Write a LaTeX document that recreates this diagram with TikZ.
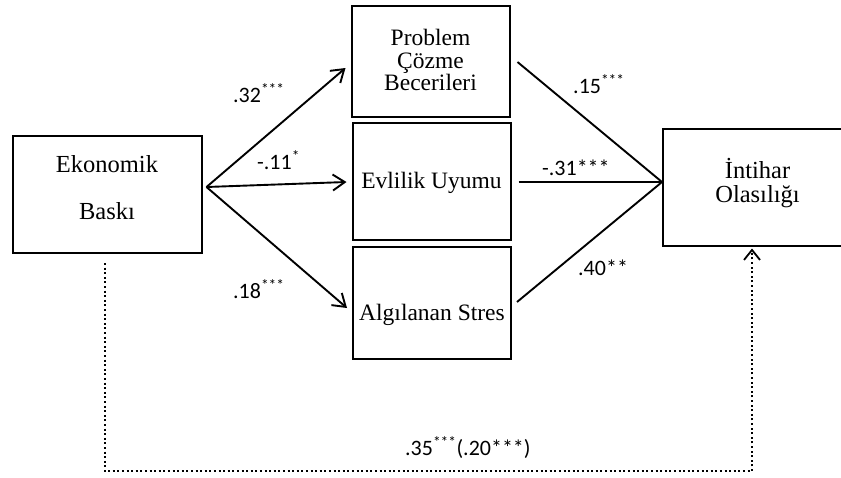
\documentclass[tikz,border=0pt]{standalone}
\usepackage{fontspec}
\setmainfont{Liberation Serif}
\newfontfamily\lblfont{Carlito}
\usetikzlibrary{arrows.meta}

\begin{document}
\begin{tikzpicture}[x=1pt,y=-1pt,
  box/.style={draw,line width=2pt,inner sep=0pt,minimum width=#1},
  box/.default=158pt,
  boxtext/.style={inner sep=0pt,align=center,font=\fontsize{23.5}{22.5}\selectfont},
  arr/.style={line width=1.9pt,-{Straight Barb[length=12pt,width=16pt,line width=1.9pt]}},
  lbl/.style={inner sep=0pt,anchor=base west,font=\lblfont\fontsize{22}{26}\selectfont}]

\useasboundingbox (0,0) rectangle (841,477);
\clip (0,0) rectangle (841,477);

% boxes
\node[box=189pt,minimum height=117pt] (eko) at (107,194.5) {};
\node[box,minimum height=111pt] (prob) at (430.5,61.5) {};
\node[box,minimum height=117pt] (evl) at (431.5,181.5) {};
\node[box,minimum height=112pt] (alg) at (432,303) {};
\node[box=189pt,minimum height=117pt] (inti) at (757.5,187.5) {};

\node[boxtext,font=\fontsize{24.5}{47}\selectfont,yshift=7.3pt] (ekoT) at (eko) {Ekonomik\\Baskı};
\node[boxtext,yshift=1.5pt] (probT) at (prob) {Problem\\Çözme\\Becerileri};
\node[boxtext,yshift=-1pt] (evlT) at (evl) {Evlilik Uyumu};
\node[boxtext,yshift=-11.7pt] (algT) at (alg) {Algılanan Stres};
\node[boxtext,font=\fontsize{24.5}{24}\selectfont,yshift=4.5pt] (intiT) at (inti) {İntihar\\Olasılığı};

\coordinate (src) at ([shift={(4pt,7.5pt)}]eko.east);
\coordinate (snk) at ([shift={(0pt,5.5pt)}]inti.west);

\draw[arr] (src) -- ([shift={(-5pt,-6.5pt)}]prob.west);
\draw[arr] (src) -- ([shift={(-5pt,-0.5pt)}]evl.west);
\draw[arr] (src) -- ([shift={(-5pt,-5pt)}]alg.west);

\draw[line width=1.9pt] ([shift={(7pt,-0.5pt)}]prob.east) -- (snk);
\draw[line width=1.9pt] ([shift={(7pt,-0.5pt)}]evl.east) -- (snk);
\draw[line width=1.9pt] ([shift={(5pt,1pt)}]alg.east) -- (snk);

%\draw[dotted] (eko) -- (inti);
\coordinate (bot) at (0,471);
\draw[line width=2pt,dash pattern=on 2pt off 2.6pt,
  -{Straight Barb[length=10pt,width=16pt,line width=1.8pt]}]
  ([shift={(-2.5pt,-9pt)}]eko.south) coordinate (d1) -- (d1 |- bot)
  -| ([shift={(-5.5pt,-1.5pt)}]inti.south);

% path coefficients
\node[lbl] (l32) at (233,102) {.32\textsuperscript{***}};
\node[lbl] (l11) at (257,169) {-.11\textsuperscript{*}};
\node[lbl] (l18) at (233,298) {.18\textsuperscript{***}};
\node[lbl] (l15) at (573,93) {.15\textsuperscript{***}};
\node[lbl] (l31) at (542,175) {-.31***};
\node[lbl] (l40) at (578,275) {.40**};
\node[lbl] (l35) at (405,455) {.35\textsuperscript{***}(.20***)};

\end{tikzpicture}
\end{document}
